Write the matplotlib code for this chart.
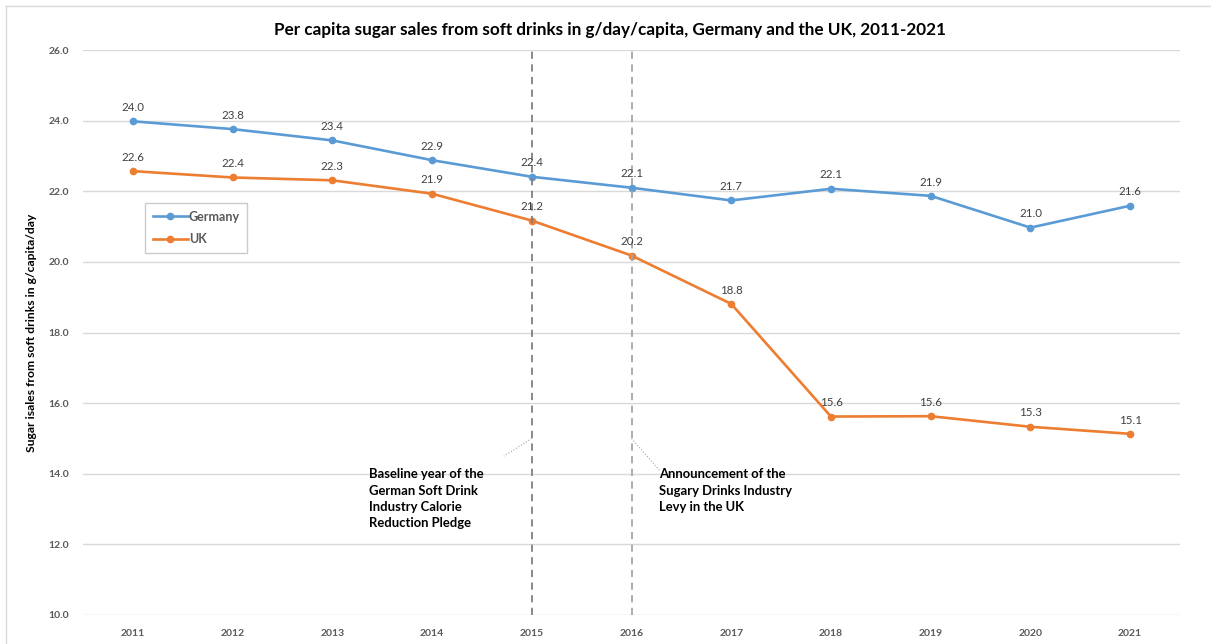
import matplotlib
matplotlib.use("Agg")
import matplotlib.pyplot as plt
from matplotlib.lines import Line2D

years = ["2011", "2012", "2013", "2014", "2015", "2016", "2017", "2018", "2019", "2020", "2021"]
germany = [23.98, 23.76, 23.44, 22.88, 22.41, 22.10, 21.74, 22.07, 21.87, 20.97, 21.59]
uk = [22.57, 22.39, 22.31, 21.93, 21.17, 20.18, 18.81, 15.62, 15.63, 15.33, 15.13]
yticks = [10, 12, 14, 16, 18, 20, 22, 24, 26]

plt.rcParams['font.family'] = ['Lato', 'DejaVu Sans']

fig = plt.figure(figsize=(12.11, 6.44), dpi=100)
ax = fig.add_axes([83/1211, 1-615/644, (1180-83)/1211, (615-50)/644])

x = list(range(len(years)))
c_de = '#5B9BD5'
c_uk = '#ED7D31'
ax.plot(x, germany, color=c_de, lw=1.9, marker='o', ms=4.5, label='Germany', zorder=3)
ax.plot(x, uk, color=c_uk, lw=1.9, marker='o', ms=4.5, label='UK', zorder=3)

for xi, v in zip(x, germany):
    ax.annotate(f"{v:.1f}", (xi, v), xytext=(0, 6), textcoords='offset points',
                ha='center', va='bottom', fontsize=8.3, color='#404040', zorder=5)
for xi, v in zip(x, uk):
    ax.annotate(f"{v:.1f}", (xi, v), xytext=(0, 6), textcoords='offset points',
                ha='center', va='bottom', fontsize=8.3, color='#404040', zorder=5)

ax.set_xlim(-0.5, len(years) - 0.5)
ax.set_ylim(10, 26)
ax.set_yticks(yticks)
ax.set_yticklabels([f"{t:.1f}" for t in yticks], fontsize=7.5, fontweight='bold', color='#595959')
ax.set_xticks(x)
ax.set_xticklabels(years, fontsize=7.5, fontweight='bold', color='#595959')
ax.tick_params(axis='x', length=0, pad=10)
ax.tick_params(axis='y', length=0, pad=10)
ax.grid(axis='y', color='#D9D9D9', lw=1)
ax.set_axisbelow(True)
for s in ax.spines.values():
    s.set_visible(False)

# vertical dashed markers
ax.axvline(4, ymin=0, ymax=1, color='#808080', lw=1.3, ls=(0, (4, 3)), zorder=4)
ax.axvline(5, ymin=0, ymax=1, color='#A6A6A6', lw=1.3, ls=(0, (4, 3)), zorder=4)

# leader lines
ax.plot([4, 3.72], [15.0, 14.5], color='#A6A6A6', lw=0.8, ls=':', zorder=4)
ax.plot([5, 5.28], [15.0, 14.1], color='#A6A6A6', lw=0.8, ls=':', zorder=4)

ax.text(2.37, 14.15, "Baseline year of the\nGerman Soft Drink\nIndustry Calorie\nReduction Pledge",
        fontsize=9.4, fontweight='bold', color='black', ha='left', va='top', linespacing=1.42)
ax.text(5.28, 14.15, "Announcement of the\nSugary Drinks Industry\nLevy in the UK",
        fontsize=9.4, fontweight='bold', color='black', ha='left', va='top', linespacing=1.42)

ax.set_ylabel("Sugar isales from soft drinks in g/capita/day", fontsize=8.7, fontweight='bold',
              color='black', labelpad=8)

fig.text(610/1211, 1-30/644, "Per capita sugar sales from soft drinks in g/day/capita, Germany and the UK, 2011-2021",
         fontsize=12.3, fontweight='bold', ha='center', va='center', color='black')

leg = ax.legend(loc='upper left', bbox_to_anchor=((145-83)/1097, 1-(203-50)/565),
                fontsize=9, frameon=True, fancybox=False, edgecolor='#BFBFBF',
                handlelength=2.8, handletextpad=0.1, borderpad=0.6, labelspacing=0.85,
                borderaxespad=0)
for t in leg.get_texts():
    t.set_fontweight('bold')
    t.set_color('#595959')
leg.get_frame().set_linewidth(1.0)

# outer border
fig.add_artist(Line2D([6/1211, 6/1211], [0, 1-6/644], transform=fig.transFigure, color='#D9D9D9', lw=1))
fig.add_artist(Line2D([6/1211, 1], [1-6/644, 1-6/644], transform=fig.transFigure, color='#D9D9D9', lw=1))

fig.savefig("out.png", dpi=100)
